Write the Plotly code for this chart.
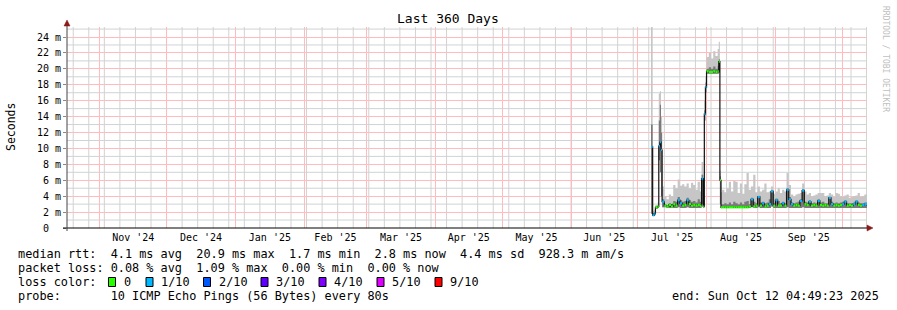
import plotly.graph_objects as go
import pandas as pd

# ---------------- data ----------------
times = [
    "2025-07-07 00:00", "2025-07-07 18:00", "2025-07-08 12:00", "2025-07-09 00:00",
    "2025-07-10 00:00", "2025-07-10 12:00", "2025-07-11 00:00", "2025-07-11 12:00",
    "2025-07-12 00:00", "2025-07-13 00:00", "2025-07-14 00:00", "2025-07-15 00:00",
    "2025-07-16 00:00", "2025-07-17 00:00", "2025-07-18 00:00", "2025-07-19 00:00",
    "2025-07-20 00:00", "2025-07-21 00:00", "2025-07-22 00:00", "2025-07-23 00:00",
    "2025-07-24 00:00", "2025-07-25 00:00", "2025-07-26 00:00", "2025-07-27 00:00",
    "2025-07-28 00:00", "2025-07-29 00:00", "2025-07-29 18:00", "2025-07-30 12:00",
    "2025-07-31 00:00", "2025-07-31 12:00", "2025-08-01 00:00", "2025-08-02 00:00",
    "2025-08-03 00:00", "2025-08-04 00:00", "2025-08-05 00:00", "2025-08-06 00:00",
    "2025-08-06 12:00", "2025-08-07 00:00", "2025-08-07 12:00",
    "2025-08-08", "2025-08-09", "2025-08-10", "2025-08-11", "2025-08-12", "2025-08-13",
    "2025-08-14", "2025-08-15", "2025-08-16", "2025-08-17", "2025-08-18", "2025-08-19",
    "2025-08-20", "2025-08-21", "2025-08-22", "2025-08-23", "2025-08-24", "2025-08-25",
    "2025-08-26", "2025-08-27", "2025-08-28", "2025-08-29", "2025-08-30", "2025-08-31",
    "2025-09-01", "2025-09-02", "2025-09-03", "2025-09-04", "2025-09-05", "2025-09-06",
    "2025-09-07", "2025-09-08", "2025-09-09", "2025-09-10", "2025-09-11", "2025-09-12",
    "2025-09-13", "2025-09-14", "2025-09-15", "2025-09-16", "2025-09-17", "2025-09-18",
    "2025-09-19", "2025-09-20", "2025-09-21", "2025-09-22", "2025-09-23", "2025-09-24",
    "2025-09-25", "2025-09-26", "2025-09-27", "2025-09-28", "2025-09-29", "2025-09-30",
    "2025-10-01", "2025-10-02", "2025-10-03", "2025-10-04", "2025-10-05", "2025-10-06",
    "2025-10-07", "2025-10-08", "2025-10-09", "2025-10-10", "2025-10-11",
    "2025-10-12 04:49:23",
]

# median rtt (ms)
median_ms = [
    10.2, 1.6, 1.8, 2.6, 2.7, 10.3, 10.8, 9.8,
    3.3, 2.8, 2.7, 2.9, 2.7, 3.0, 2.8, 3.5,
    3.1, 2.8, 2.9, 3.5, 3.0, 2.8, 2.9, 2.8,
    2.9, 2.8, 6.2, 2.7, 14.3, 17.7, 19.7, 19.6,
    19.6, 19.7, 19.6, 19.7, 20.9, 6.0, 2.6,
    2.6, 2.6, 2.6, 2.6, 2.6, 2.6, 2.6, 2.6, 2.6, 2.6, 2.6, 2.6,
    2.7, 3.6, 2.7, 2.8, 3.9, 2.8, 3.1, 2.7, 2.8, 3.0, 4.6, 2.8,
    3.5, 2.8, 2.8, 3.1, 2.8, 4.8, 3.6, 3.0, 2.8, 2.9, 2.8, 3.4,
    4.7, 3.0, 2.9, 3.3, 2.8, 2.9, 2.8, 3.4, 2.9, 2.8, 2.9, 2.8,
    3.8, 3.0, 2.8, 2.9, 2.8, 2.9,
    3.0, 3.3, 2.8, 2.9, 2.8, 3.0, 3.3, 2.9, 2.8, 2.9, 3.0,
    2.8,
]

# smoke: lowest ping (ms)
smoke_lo = [
    1.8, 1.5, 1.6, 2.4, 2.5, 8.5, 7.0, 4.0,
    2.6, 2.6, 2.5, 2.5, 2.5, 2.5, 2.5, 2.6,
    2.5, 2.5, 2.5, 2.6, 2.5, 2.5, 2.5, 2.5,
    2.5, 2.5, 3.0, 2.5, 13.5, 17.0, 19.4, 19.4,
    19.4, 19.4, 19.4, 19.4, 19.5, 3.0, 2.5,
    2.5, 2.5, 2.5, 2.5, 2.5, 2.5, 2.5, 2.5, 2.5, 2.5, 2.5, 2.5,
    2.5, 2.6, 2.5, 2.5, 2.6, 2.5, 2.5, 2.5, 2.5, 2.5, 2.7, 2.5,
    2.5, 2.5, 2.5, 2.5, 2.5, 2.6, 2.5, 2.5, 2.5, 2.5, 2.5, 2.5,
    2.6, 2.5, 2.5, 2.5, 2.5, 2.5, 2.5, 2.5, 2.5, 2.5, 2.5, 2.5,
    2.5, 2.5, 2.5, 2.5, 2.5, 2.5,
    2.5, 2.5, 2.5, 2.5, 2.5, 2.5, 2.5, 2.5, 2.5, 2.5, 2.5,
    2.5,
]

# smoke: inner (dark) band upper edge (ms)
smoke_mid = [
    13.0, 1.8, 2.0, 2.7, 2.9, 13.5, 15.5, 12.0,
    3.6, 3.0, 2.9, 3.1, 3.0, 3.4, 3.3, 3.9,
    3.5, 3.3, 3.4, 3.8, 3.5, 3.3, 3.4, 3.2,
    3.6, 3.3, 6.7, 2.9, 14.8, 18.3, 20.0, 20.2,
    20.0, 20.3, 20.0, 20.4, 21.2, 6.5, 3.0,
    3.0, 3.1, 3.0, 3.2, 3.0, 3.3, 3.1, 3.0, 3.2, 3.0, 3.3, 3.4,
    3.0, 3.8, 3.3, 3.1, 4.0, 3.2, 3.3, 3.1, 3.2, 3.6, 4.7, 3.1,
    3.7, 3.4, 3.1, 3.3, 3.1, 5.0, 3.9, 3.2, 3.1, 3.2, 3.3, 3.6,
    4.9, 3.3, 3.2, 3.5, 3.1, 3.2, 3.1, 3.6, 3.2, 3.3, 3.1, 3.1,
    3.9, 3.3, 3.1, 3.2, 3.1, 3.2,
    3.3, 3.5, 3.1, 3.1, 3.1, 3.2, 3.5, 3.2, 3.1, 3.1, 3.2,
    3.1,
]

# smoke: highest ping (ms)
smoke_hi = [
    25.5, 2.1, 2.3, 2.9, 3.2, 16.9, 17.2, 14.0,
    5.2, 4.0, 3.6, 4.2, 4.0, 5.4, 5.0, 6.1,
    5.3, 5.5, 5.2, 5.6, 5.0, 5.7, 5.4, 4.8,
    5.8, 4.6, 8.3, 3.2, 16.0, 19.0, 21.5, 22.0,
    21.3, 22.2, 21.6, 22.5, 23.4, 7.2, 4.5,
    4.8, 4.5, 5.0, 5.8, 4.6, 5.9, 5.8, 4.4, 5.6, 4.3, 5.5, 6.9,
    4.8, 5.2, 6.7, 4.5, 5.2, 4.6, 4.8, 5.6, 4.5, 4.6, 5.2, 4.3,
    4.6, 5.0, 4.4, 4.8, 4.6, 6.9, 5.4, 4.2, 4.0, 4.2, 4.3, 4.4,
    5.6, 4.6, 4.2, 4.4, 4.0, 4.1, 4.2, 4.4, 4.4, 4.4, 4.0, 4.1,
    4.4, 4.2, 3.9, 4.4, 4.3, 4.0,
    3.9, 4.1, 4.2, 3.8, 3.9, 4.0, 4.1, 4.4, 3.9, 4.0, 4.2,
    4.0,
]

# lost pings out of 10
loss = [
    1, 1, 1, 0, 0, 1, 1, 1,
    1, 0, 0, 0, 0, 0, 0, 1,
    1, 0, 0, 1, 0, 0, 0, 0,
    0, 0, 1, 0, 1, 1, 0, 0,
    0, 0, 0, 0, 0, 0, 0,
    0, 0, 0, 0, 0, 0, 0, 0, 0, 0, 0, 0,
    0, 1, 0, 0, 1, 0, 1, 0, 0, 1, 1, 0,
    1, 0, 0, 1, 0, 1, 1, 1, 0, 0, 0, 1,
    1, 0, 0, 1, 0, 0, 0, 1, 0, 0, 0, 0,
    1, 1, 0, 0, 0, 0,
    1, 1, 0, 0, 0, 1, 1, 0, 0, 1, 1,
    0,
]

y_tick_vals = [0, 2, 4, 6, 8, 10, 12, 14, 16, 18, 20, 22, 24]
y_tick_text = ["0\u00a0\u00a0"] + [f"{v} m" for v in y_tick_vals[1:]]
y_minor_vals = [1, 3, 5, 7, 9, 11, 13, 15, 17, 19, 21, 23, 25]

loss_levels = ["0", "1/10", "2/10", "3/10", "4/10", "5/10", "9/10"]
loss_colors = ["#26ff00", "#00b8ff", "#0059ff", "#5e00ff", "#7e00ff", "#dd00ff", "#ff0000"]

title_text = "Last 360 Days"
start_time = "2024-10-17 04:49:23"
end_time = "2025-10-12 04:49:23"

assert len(times) == len(median_ms) == len(smoke_lo) == len(smoke_mid) == len(smoke_hi) == len(loss)

# weekly minor grid positions (Sundays)
week_grid = [d.strftime("%Y-%m-%d") for d in pd.date_range("2024-10-20", "2025-10-12", freq="7D")]

# ---------------- layout geometry ----------------
W_FIG, H_FIG = 897, 310
L, R, T, B = 67, 867, 27, 228
PW, PH = R - L, B - T
Y_MAX = 25.26


def px(x):
    return (x - L) / PW


def py(y):
    return (B - y) / PH


def nb(s):
    return s.replace(" ", "\u00a0")


MONO = "DejaVu Sans Mono"
RED_GRID = "#ffbcbc"
GRAY_GRID = "#d2d2d2"

fig = go.Figure()

# outer smoke
fig.add_trace(go.Scatter(x=times, y=smoke_lo, mode="lines", line=dict(width=0, shape="hv"),
                         hoverinfo="skip"))
fig.add_trace(go.Scatter(x=times, y=smoke_hi, mode="lines", line=dict(width=0, shape="hv"),
                         fill="tonexty", fillcolor="#c6c6c6", hoverinfo="skip"))
# inner smoke
fig.add_trace(go.Scatter(x=times, y=smoke_lo, mode="lines", line=dict(width=0, shape="hv"),
                         hoverinfo="skip"))
fig.add_trace(go.Scatter(x=times, y=smoke_mid, mode="lines", line=dict(width=0, shape="hv"),
                         fill="tonexty", fillcolor="#7a7a7a", hoverinfo="skip"))
# median line (black connector)
fig.add_trace(go.Scatter(x=times, y=median_ms, mode="lines",
                         line=dict(width=1.2, color="#111111", shape="hv"), hoverinfo="skip"))

# coloured median segments per loss level
for lvl, col in [(0, loss_colors[0]), (1, loss_colors[1])]:
    sx, sy = [], []
    for i in range(len(times) - 1):
        if loss[i] == lvl:
            sx += [times[i], times[i + 1], None]
            sy += [median_ms[i], median_ms[i], None]
    fig.add_trace(go.Scatter(x=sx, y=sy, mode="lines", line=dict(width=2.2, color=col),
                             hoverinfo="skip"))

annotations = []
shapes = []

# minor grid as shapes (below traces)
for wd in week_grid:
    shapes.append(dict(type="line", xref="x", yref="paper", x0=wd, x1=wd, y0=0, y1=1,
                       layer="below", line=dict(color=GRAY_GRID, width=1)))
for mv in y_minor_vals:
    shapes.append(dict(type="line", xref="paper", yref="y", x0=0, x1=1, y0=mv, y1=mv,
                       layer="below", line=dict(color=GRAY_GRID, width=1)))

# title
annotations.append(dict(text=title_text, x=px(448), y=py(19), xref="paper", yref="paper",
                        showarrow=False, xanchor="center", yanchor="middle",
                        font=dict(family=MONO, size=13, color="#000")))
# y axis title
annotations.append(dict(text="Seconds", x=px(11), y=py(127), xref="paper", yref="paper",
                        showarrow=False, xanchor="center", yanchor="middle", textangle=-90,
                        font=dict(family=MONO, size=11.5, color="#000")))
# watermark
annotations.append(dict(text=nb("RRDTOOL / TOBI OETIKER"), x=px(886), y=py(59), xref="paper",
                        yref="paper", showarrow=False, xanchor="center", yanchor="middle",
                        textangle=90, font=dict(family=MONO, size=8, color="#c0c0c0")))

LEG = 11.85
legend_lines = [
    (254, "median rtt:  4.1 ms avg  20.9 ms max  1.7 ms min  2.8 ms now  4.4 ms sd  928.3 m am/s"),
    (268, "packet loss: 0.08 % avg  1.09 % max  0.00 % min  0.00 % now"),
    (296, "probe:       10 ICMP Echo Pings (56 Bytes) every 80s"),
]
for yy, txt in legend_lines:
    annotations.append(dict(text=nb(txt), x=px(16), y=py(yy), xref="paper", yref="paper",
                            showarrow=False, xanchor="left", yanchor="middle",
                            font=dict(family=MONO, size=LEG, color="#000")))
annotations.append(dict(text=nb("loss color:"), x=px(16), y=py(282), xref="paper", yref="paper",
                        showarrow=False, xanchor="left", yanchor="middle",
                        font=dict(family=MONO, size=LEG, color="#000")))
box_x = [108.5, 146, 203.5, 261, 319, 377, 435]
for bx, lab, col in zip(box_x, loss_levels, loss_colors):
    shapes.append(dict(type="rect", xref="paper", yref="paper",
                       x0=px(bx), x1=px(bx + 7), y0=py(286.5), y1=py(277.5),
                       fillcolor=col, line=dict(color="#000", width=1)))
    annotations.append(dict(text=lab, x=px(bx + 13), y=py(282), xref="paper", yref="paper",
                            showarrow=False, xanchor="left", yanchor="middle",
                            font=dict(family=MONO, size=LEG, color="#000")))
annotations.append(dict(text=nb("end: Sun Oct 12 04:49:23 2025"), x=px(881), y=py(296),
                        xref="paper", yref="paper", showarrow=False, xanchor="right",
                        yanchor="middle", font=dict(family=MONO, size=LEG, color="#000")))

# axis lines and arrows
shapes.append(dict(type="line", xref="paper", yref="paper", x0=px(63), x1=px(868),
                   y0=0, y1=0, line=dict(color="#000", width=1)))
shapes.append(dict(type="line", xref="paper", yref="paper", x0=0, x1=0,
                   y0=py(231), y1=py(24), line=dict(color="#444", width=1)))
ax, ay = 870, 228
shapes.append(dict(type="path", xref="paper", yref="paper",
                   path=f"M {px(ax-3)} {py(ay-3)} L {px(ax+3)} {py(ay)} L {px(ax-3)} {py(ay+3)} Z",
                   fillcolor="#8b1a1a", line=dict(color="#8b1a1a", width=0.5)))
tx, ty = 67, 22
shapes.append(dict(type="path", xref="paper", yref="paper",
                   path=f"M {px(tx-3)} {py(ty+4)} L {px(tx)} {py(ty-2)} L {px(tx+3)} {py(ty+4)} Z",
                   fillcolor="#8b1a1a", line=dict(color="#8b1a1a", width=0.5)))

fig.update_layout(
    width=W_FIG, height=H_FIG,
    margin=dict(l=L, r=W_FIG - R, t=T, b=H_FIG - B),
    paper_bgcolor="#ffffff", plot_bgcolor="#ffffff",
    showlegend=False,
    annotations=annotations, shapes=shapes,
    xaxis=dict(
        type="date", range=[start_time, end_time],
        dtick="M1", tick0="2024-11-01", tickformat="%b '%y", ticklabelmode="period",
        showgrid=True, gridcolor=RED_GRID, gridwidth=1,
        tickfont=dict(family=MONO, size=10, color="#000"),
        ticks="", ticklabelstandoff=2, showline=False, zeroline=False,
    ),
    yaxis=dict(
        range=[0, Y_MAX], tickvals=y_tick_vals, ticktext=y_tick_text,
        showgrid=True, gridcolor=RED_GRID, gridwidth=1,
        tickfont=dict(family=MONO, size=10, color="#000"),
        ticks="outside", ticklen=3, tickcolor="#888", showline=False, zeroline=False,
    ),
)

fig.write_html("out.html")
